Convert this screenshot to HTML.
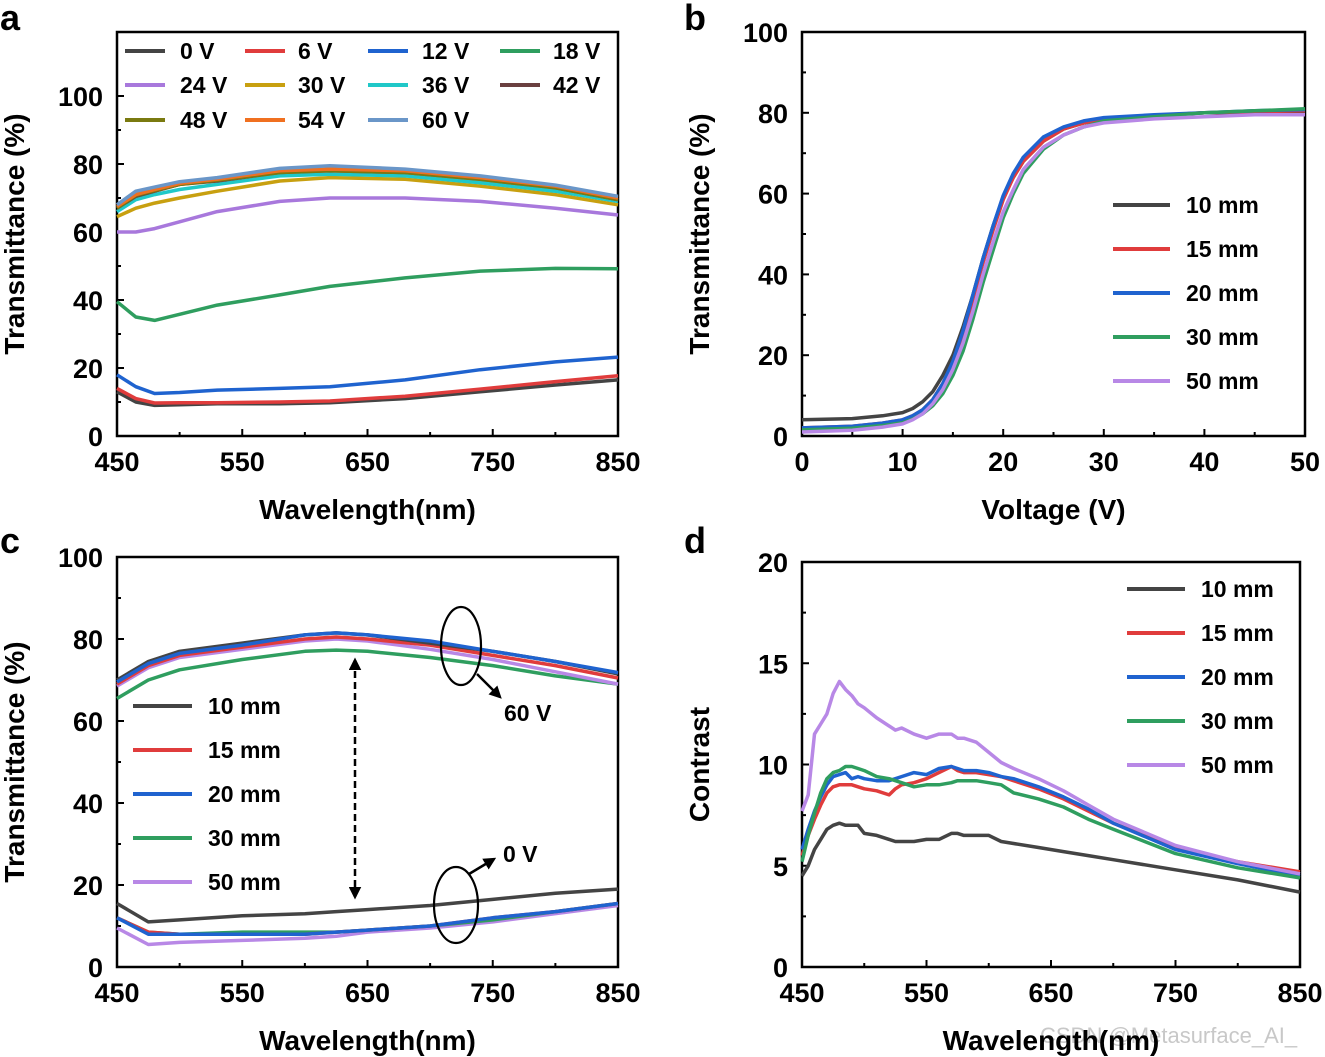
<!DOCTYPE html>
<html><head><meta charset="utf-8"><style>
html,body{margin:0;padding:0;background:#fff;}
svg{display:block;font-family:"Liberation Sans",Arial,sans-serif;font-weight:bold;}
</style></head><body>
<svg id="fig" width="1325" height="1057" viewBox="0 0 1325 1057" xmlns="http://www.w3.org/2000/svg">
<text x="0" y="30" font-size="36">a</text>
<text x="684" y="30" font-size="36">b</text>
<text x="0" y="553" font-size="36">c</text>
<text x="684" y="553" font-size="36">d</text>
<text x="1040" y="1043" font-size="22" font-weight="normal" fill="#c8c8c8">CSDN @Metasurface_AI_</text>
</svg>
<script>
// ---- Panel a data ----
const aWl = [450,465,480,500,530,580,620,680,740,800,850];
const aLabels = ["0 V","6 V","12 V","18 V","24 V","30 V","36 V","42 V","48 V","54 V","60 V"];
const aColors = ["#444444","#e03c3c","#1f63cf","#2f9e5f","#a878dc","#c8a010","#20c8c8","#6a4040","#7a7a10","#f07020","#6a96c8"];
const a0V = [13,10,9,9.2,9.5,9.5,9.8,11,13,15,16.5];
const a6V = [14,11,9.7,9.8,9.8,10,10.3,11.7,13.8,16,17.7];
const a12V = [18,14.5,12.5,12.8,13.5,14,14.5,16.5,19.5,21.8,23.2];
const a18V = [39.5,35,34,35.8,38.5,41.5,44,46.5,48.5,49.3,49.2];
const a24V = [60,60,61,63,66,69,70,70,69,67,65];
const a30V = [64.5,67,68.5,70,72,75,76,75.5,73.5,71,68];
const a36V = [66,69.5,71,72.5,74,76.5,77,76.5,74.5,72,69];
const a42V = [67,70.5,72,74,75,77.5,78,77.5,75.5,73,69.5];
const a48V = [67,70.8,72.2,74,75.2,77.5,78,77.5,75.5,73,69.5];
const a54V = [67.5,71,72.5,74.3,75.5,78,78.5,78,76,73.5,70];
const a60V = [68,72,73.2,74.8,76,78.7,79.5,78.5,76.5,73.8,70.5];
const aSeries = [a0V,a6V,a12V,a18V,a24V,a30V,a36V,a42V,a48V,a54V,a60V];
// ---- Panel b data ----
const bV = [0,5,8,10,11,12,13,14,15,16,17,18,19,20,21,22,24,26,28,30,35,40,45,50];
const bLabels = ["10 mm","15 mm","20 mm","30 mm","50 mm"];
const b10 = [4,4.3,5,5.8,6.8,8.5,11,15,20,27,35,44,52,59,64,68,73,76,77.5,78.5,79.3,80,80,80.3];
const b15 = [2,2.4,3.2,4,5,6.5,9,13,18,25,34,43,51,58.5,64,68,73,76,77.5,78.5,79.3,80,80.3,80.5];
const b20 = [2,2.4,3.2,4,5,6.5,9,13,18.5,26,35,44,52,59.5,65,69,74,76.5,78,78.8,79.5,80,80.5,80.8];
const b30 = [1.5,1.9,2.6,3.3,4.2,5.5,7.5,10.5,15,21,29,38,46,54,60,65,71,74.5,76.5,78,79,80,80.5,81];
const b50 = [1,1.4,2.2,3,4,5.5,8,11.5,16.5,23,31,40,48,55.5,61,66,71.5,74.5,76.5,77.5,78.5,79,79.5,79.5];
const bSeries = [b10,b15,b20,b30,b50];
const mmColors = ["#444444","#e03c3c","#1f63cf","#2f9e5f","#b888e6"];
// ---- Panel c data ----
const cWl = [450,475,500,550,600,625,650,700,750,800,850];
const c10hi = [70,74.5,77,79,81,81.5,81,79,77,74.5,71.5];
const c15hi = [69,73.5,76,78,80,80.5,80,78.5,76,73.5,70.5];
const c20hi = [69.5,74,76.5,78.5,81,81.5,81,79.5,77,74.5,71.8];
const c30hi = [65.5,70,72.5,75,77,77.3,77,75.5,73.5,71,69];
const c50hi = [68.5,73,75.5,77.5,79.5,80,79.5,77.5,75,72,69];
const c10lo = [15.5,11,11.5,12.5,13,13.5,14,15,16.5,18,19];
const c15lo = [12,8.5,8,8,8,8.5,9,10,12,13.5,15.5];
const c20lo = [12,8,8,8,8,8.5,9,10,12,13.5,15.5];
const c30lo = [12,8.5,8,8.5,8.5,8.5,9,10,11.5,13.5,15.5];
const c50lo = [9.5,5.5,6,6.5,7,7.5,8.5,9.5,11,13,15];
const cHi = [c10hi,c15hi,c20hi,c30hi,c50hi];
const cLo = [c10lo,c15lo,c20lo,c30lo,c50lo];
// ---- Panel d data ----
const dWl = [450,455,460,465,470,475,480,485,490,495,500,510,520,525,530,540,550,560,570,575,580,590,600,610,620,640,660,680,700,750,800,850];
const d10 = [4.5,5,5.8,6.3,6.8,7,7.1,7,7,7,6.6,6.5,6.3,6.2,6.2,6.2,6.3,6.3,6.6,6.6,6.5,6.5,6.5,6.2,6.1,5.9,5.7,5.5,5.3,4.8,4.3,3.7];
const d15 = [5.5,6.5,7.3,8,8.6,8.9,9,9,9,8.9,8.8,8.7,8.5,8.8,9,9.1,9.3,9.6,9.9,9.7,9.6,9.6,9.5,9.4,9.2,8.8,8.3,7.7,7.1,5.9,5.2,4.7];
const d20 = [5.8,6.8,7.7,8.4,9,9.4,9.5,9.6,9.3,9.4,9.3,9.2,9.2,9.3,9.4,9.6,9.5,9.8,9.9,9.8,9.7,9.7,9.6,9.4,9.3,8.9,8.4,7.8,7.1,5.8,5.1,4.5];
const d30 = [5.2,6.5,7.6,8.6,9.3,9.6,9.7,9.9,9.9,9.8,9.7,9.4,9.3,9.2,9.1,8.9,9,9,9.1,9.2,9.2,9.2,9.1,9.0,8.6,8.3,7.9,7.3,6.8,5.6,4.9,4.4];
const d50 = [7.7,8.5,11.5,12,12.5,13.5,14.1,13.7,13.4,13,12.8,12.3,11.9,11.7,11.8,11.5,11.3,11.5,11.5,11.3,11.3,11.1,10.6,10.1,9.8,9.3,8.7,8,7.3,6,5.2,4.6];
const dSeries = [d10,d15,d20,d30,d50];
const wlTicks = [450,550,650,750,850];

const NS="http://www.w3.org/2000/svg";
const svg=document.getElementById('fig');
function mk(tag,attrs,parent){const e=document.createElementNS(NS,tag);for(const k in attrs)e.setAttribute(k,attrs[k]);(parent||svg).appendChild(e);return e;}
function scale(d0,d1,r0,r1){return v=>r0+(v-d0)/(d1-d0)*(r1-r0);}

function axes(p){
  const g=mk('g',{});
  
  
  mk('rect',{x:p.x0,y:p.yt,width:p.x1-p.x0,height:p.y0-p.yt,fill:'none',stroke:'#000','stroke-width':2.5},g);
  p.xt.forEach((v,i)=>{const x=p.sx(v);
    mk('line',{x1:x,x2:x,y1:p.y0,y2:p.y0-7,stroke:'#000','stroke-width':2},g);
    if(i<p.xt.length-1){const xm=p.sx((v+p.xt[i+1])/2);mk('line',{x1:xm,x2:xm,y1:p.y0,y2:p.y0-4,stroke:'#000','stroke-width':2},g);}
    const t=mk('text',{x:x,y:p.y0+35,'font-size':27,'text-anchor':'middle'},g);t.textContent=v;
    
    
  });
  p.yticks.forEach((v,i)=>{const y=p.sy(v);
    mk('line',{x1:p.x0,x2:p.x0+7,y1:y,y2:y,stroke:'#000','stroke-width':2},g);
    if(i<p.yticks.length-1){const ym=p.sy((v+p.yticks[i+1])/2);mk('line',{x1:p.x0,x2:p.x0+4,y1:ym,y2:ym,stroke:'#000','stroke-width':2},g);}
    const t=mk('text',{x:p.x0-14,y:y+10,'font-size':27,'text-anchor':'end'},g);t.textContent=v;
    
    
  });
  const xt=mk('text',{x:(p.x0+p.x1)/2,y:p.y0+83,'font-size':28,'text-anchor':'middle'},g);xt.textContent=p.xlabel;
  
  
  const yc=(p.yt+p.y0)/2+ (p.yoff||0);
  const yt=mk('text',{x:0,y:0,'font-size':28,'text-anchor':'middle',transform:`translate(${p.ytx},${yc}) rotate(-90)`},g);yt.textContent=p.ylabel;
  
  
}
function line(xs,ys,sx,sy,color,name){
  const d=xs.map((x,i)=>(i?'L':'M')+sx(x).toFixed(1)+','+sy(ys[i]).toFixed(1)).join(' ');
  const e=mk('path',{d:d,fill:'none',stroke:color,'stroke-width':3.5,'stroke-linejoin':'round'});
  
  
}
function legend(x,y,color,label,lw,tx){
  const g=mk('g',{});
  
  
  mk('line',{x1:x,x2:x+lw,y1:y,y2:y,stroke:color,'stroke-width':4},g);
  const t=mk('text',{x:tx,y:y+8,'font-size':23},g);t.textContent=label;
}

// Panel a
const pa={name:'panel-a',x0:117,x1:618,yt:32,y0:436,sx:scale(450,850,117,618),sy:scale(0,100,436,96),xt:wlTicks,yticks:[0,20,40,60,80,100],xlabel:'Wavelength(nm)',ylabel:'Transmittance (%)',ytx:24,yoff:0};
axes(pa);
aSeries.forEach((s,i)=>line(aWl,s,pa.sx,pa.sy,aColors[i],'line-a-'+aLabels[i].replace(' ','').toLowerCase()));
const aLx=[125,245,368,500],aTx=[180,298,422,553],aLy=[51,85,120];
aLabels.forEach((l,i)=>legend(aLx[i%4],aLy[Math.floor(i/4)],aColors[i],l,40,aTx[i%4]));

// Panel b
const pb={name:'panel-b',x0:802,x1:1305,yt:32,y0:436,sx:scale(0,50,802,1305),sy:scale(0,100,436,32),xt:[0,10,20,30,40,50],yticks:[0,20,40,60,80,100],xlabel:'Voltage (V)',ylabel:'Transmittance (%)',ytx:709};
axes(pb);
bSeries.forEach((s,i)=>line(bV,s,pb.sx,pb.sy,mmColors[i],'line-b-'+bLabels[i].replace(' ','')));
bLabels.forEach((l,i)=>legend(1113,205+44*i,mmColors[i],l,57,1186));

// Panel c
const pc={name:'panel-c',x0:117,x1:618,yt:557,y0:967,sx:scale(450,850,117,618),sy:scale(0,100,967,557),xt:wlTicks,yticks:[0,20,40,60,80,100],xlabel:'Wavelength(nm)',ylabel:'Transmittance (%)',ytx:24};
axes(pc);
[4,3,1,2,0].forEach(i=>{line(cWl,cLo[i],pc.sx,pc.sy,mmColors[i],'line-c-low-'+bLabels[i].replace(' ',''));});
[3,4,1,0,2].forEach(i=>{line(cWl,cHi[i],pc.sx,pc.sy,mmColors[i],'line-c-high-'+bLabels[i].replace(' ',''));});
bLabels.forEach((l,i)=>legend(133,706+44*i,mmColors[i],l,59,208));
(function(){
  const g=mk('g',{});
  
  
  mk('defs',{},g).innerHTML='<marker id="ah" viewBox="0 0 10 10" refX="8" refY="5" markerWidth="5" markerHeight="5" orient="auto-start-reverse"><path d="M0,0 L10,5 L0,10 z" fill="#000"/></marker>';
  mk('ellipse',{cx:461,cy:646,rx:20,ry:39,fill:'none',stroke:'#000','stroke-width':2.2},g);
  mk('line',{x1:477,y1:674,x2:500,y2:697,stroke:'#000','stroke-width':2.5,'marker-end':'url(#ah)'},g);
  let t=mk('text',{x:504,y:721,'font-size':23},g);t.textContent='60 V';
  mk('ellipse',{cx:456,cy:905,rx:22,ry:38,fill:'none',stroke:'#000','stroke-width':2.2},g);
  mk('line',{x1:469,y1:874,x2:494,y2:859,stroke:'#000','stroke-width':2.5,'marker-end':'url(#ah)'},g);
  t=mk('text',{x:503,y:862,'font-size':23},g);t.textContent='0 V';
  mk('line',{x1:355,y1:660,x2:355,y2:897,stroke:'#000','stroke-width':2.5,'stroke-dasharray':'7,4','marker-end':'url(#ah)','marker-start':'url(#ah)'},g);
})();

// Panel d
const pd={name:'panel-d',x0:802,x1:1300,yt:562,y0:967,sx:scale(450,850,802,1300),sy:scale(0,20,967,562),xt:wlTicks,yticks:[0,5,10,15,20],xlabel:'Wavelength(nm)',ylabel:'Contrast',ytx:709};
axes(pd);
dSeries.forEach((s,i)=>line(dWl,s,pd.sx,pd.sy,mmColors[i],'line-d-'+bLabels[i].replace(' ','')));
bLabels.forEach((l,i)=>legend(1127,589+44*i,mmColors[i],l,58,1201));
</script>
</body></html>
